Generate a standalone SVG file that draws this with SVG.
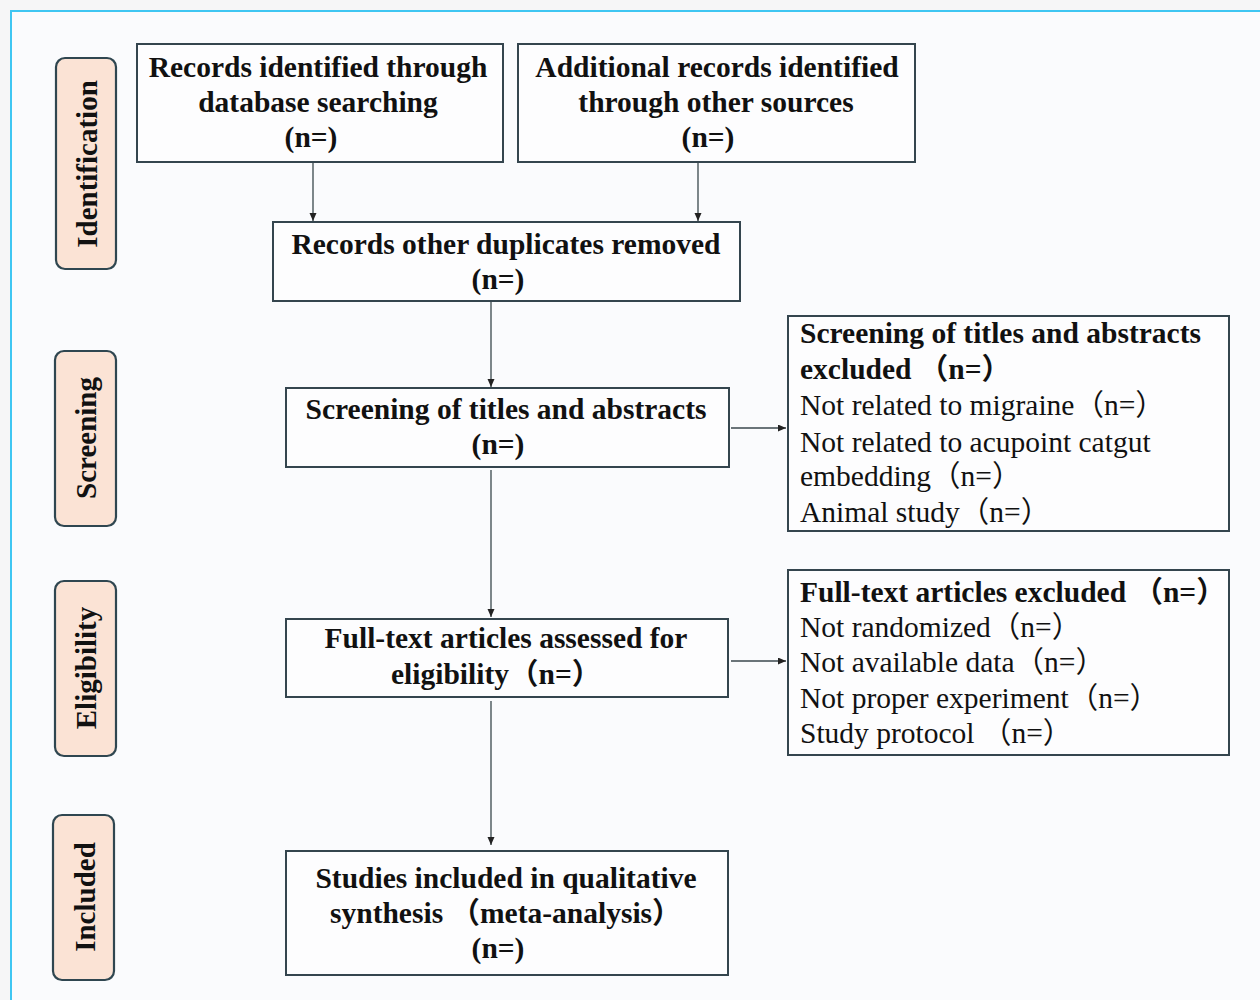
<svg xmlns="http://www.w3.org/2000/svg" width="1260" height="1000" viewBox="0 0 1260 1000">
<style>
.bg{fill:#f6f6f7}
.frame{fill:#fafbfd;stroke:#3fc6f2;stroke-width:2}
.box{fill:#ffffff;fill-opacity:0.6;stroke:#34454e;stroke-width:2}
.lab{fill:#fbe3d5;stroke:#2f4650;stroke-width:2.2}
text{font-family:"Liberation Serif","Noto Sans CJK SC",serif;font-size:29.5px;fill:#111}
.b{font-weight:bold}
.c{text-anchor:middle}
.vl{font-weight:bold;font-size:29px;text-anchor:middle}
.conn line{stroke:#3a474d;stroke-width:1.3}
</style>
<defs>
<marker id="ah" markerUnits="userSpaceOnUse" markerWidth="10" markerHeight="8" refX="8" refY="3.5" orient="auto">
<path d="M0,0 L8,3.5 L0,7 z" fill="#222"/>
</marker>
</defs>
<rect class="bg" x="0" y="0" width="1260" height="1000"/>
<rect class="frame" x="11" y="11" width="1270" height="1010"/>

<g id="label-identification"><rect class="lab" x="56" y="58" width="60" height="211" rx="9"/><text class="vl" transform="translate(97,164) rotate(-90)">Identification</text></g>
<g id="label-screening"><rect class="lab" x="55" y="351" width="61" height="175" rx="9"/><text class="vl" transform="translate(96,438) rotate(-90)">Screening</text></g>
<g id="label-eligibility"><rect class="lab" x="55" y="581" width="61" height="175" rx="9"/><text class="vl" transform="translate(96,668) rotate(-90)">Eligibility</text></g>
<g id="label-included"><rect class="lab" x="53" y="815" width="61" height="165" rx="9"/><text class="vl" transform="translate(95,897) rotate(-90)">Included</text></g>

<g id="node-database"><rect class="box" x="137" y="44" width="366" height="118"/>
<text class="b c" x="318" y="77">Records identified through</text>
<text class="b c" x="318" y="112">database searching</text>
<text class="b c" x="311" y="147">(n=)</text></g>

<g id="node-other"><rect class="box" x="518" y="44" width="397" height="118"/>
<text class="b c" x="717" y="77">Additional records identified</text>
<text class="b c" x="716" y="112">through other sources</text>
<text class="b c" x="708" y="147">(n=)</text></g>

<g id="node-duplicates"><rect class="box" x="273" y="222" width="467" height="79"/>
<text class="b c" x="506" y="254">Records other duplicates removed</text>
<text class="b c" x="498" y="289">(n=)</text></g>

<g id="node-screening"><rect class="box" x="286" y="388" width="443" height="79"/>
<text class="b c" x="506" y="419">Screening of titles and abstracts</text>
<text class="b c" x="498" y="454">(n=)</text></g>

<g id="node-fulltext"><rect class="box" x="286" y="619" width="442" height="78"/>
<text class="b c" x="506" y="648">Full-text articles assessed for</text>
<text class="b" x="391" y="684">eligibility（n=）</text></g>

<g id="node-included"><rect class="box" x="286" y="851" width="442" height="124"/>
<text class="b c" x="506" y="888">Studies included in qualitative</text>
<text class="b" x="330" y="923">synthesis （meta-analysis）</text>
<text class="b c" x="498" y="958">(n=)</text></g>

<g id="node-screen-excluded"><rect class="box" x="788" y="316" width="441" height="215"/>
<text class="b" x="800" y="343">Screening of titles and abstracts</text>
<text class="b" x="800" y="379">excluded （n=）</text>
<text x="800" y="415">Not related to migraine（n=）</text>
<text x="800" y="452">Not related to acupoint catgut</text>
<text x="800" y="486">embedding（n=）</text>
<text x="800" y="522">Animal study（n=）</text></g>

<g id="node-fulltext-excluded"><rect class="box" x="788" y="570" width="441" height="185"/>
<text class="b" x="800" y="602">Full-text articles excluded （n=）</text>
<text x="800" y="637">Not randomized（n=）</text>
<text x="800" y="672">Not available data（n=）</text>
<text x="800" y="708">Not proper experiment（n=）</text>
<text x="800" y="743">Study protocol （n=）</text></g>

<g id="connectors" class="conn">
<line x1="313" y1="163" x2="313" y2="221" marker-end="url(#ah)"/>
<line x1="698" y1="163" x2="698" y2="221" marker-end="url(#ah)"/>
<line x1="491" y1="302" x2="491" y2="387" marker-end="url(#ah)"/>
<line x1="491" y1="470" x2="491" y2="617" marker-end="url(#ah)"/>
<line x1="491" y1="701" x2="491" y2="845" marker-end="url(#ah)"/>
<line x1="731" y1="428" x2="786" y2="428" marker-end="url(#ah)"/>
<line x1="731" y1="661" x2="786" y2="661" marker-end="url(#ah)"/>
</g>
</svg>
